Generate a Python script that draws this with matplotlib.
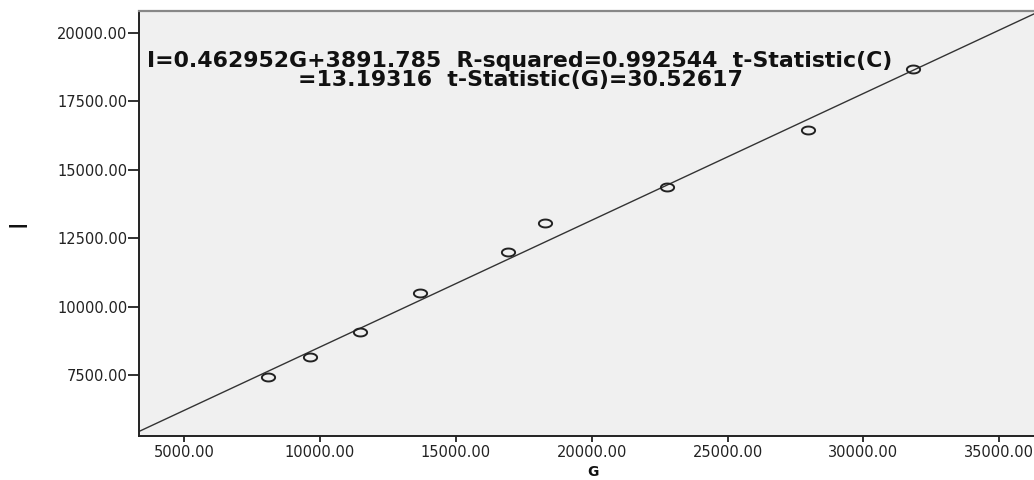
import numpy as np
import matplotlib
matplotlib.use("Agg")
import matplotlib.pyplot as plt
from matplotlib.path import Path

# ---- data ----
G_values = [8091, 9636, 11476, 13684, 16922, 18283, 22772, 27960, 31824]
I_values = [7427, 8157, 9070, 10493, 11990, 13048, 14362, 16443, 18669]
fit_slope = 0.462952
fit_intercept = 3891.785
x_ticks = [5000, 10000, 15000, 20000, 25000, 30000, 35000]
y_ticks = [7500, 10000, 12500, 15000, 17500, 20000]
x_label = "G"
y_label = "I"
annotation = ("I=0.462952G+3891.785  R-squared=0.992544  t-Statistic(C)\n"
              "=13.19316  t-Statistic(G)=30.52617")

W, H = 1034, 480
fig = plt.figure(figsize=(W / 100, H / 100), dpi=100)
fig.patch.set_facecolor("white")

# axes in pixel terms: left 139, right ~1042 (beyond figure), top 11, bottom 436
ax = fig.add_axes([139 / W, (H - 436) / H, (1042 - 139) / W, (436 - 11) / H])
ax.set_facecolor("#f0f0f0")
ax.set_xlim(3344, 36571)
ax.set_ylim(5274, 20792)

# fit line across the x range
xl = np.array(ax.get_xlim())
ax.plot(xl, fit_slope * xl + fit_intercept, color="#333333", lw=1.0, zorder=2)

# ellipse marker (horizontally stretched circle)
t = np.linspace(0, 2 * np.pi, 60)
ell = Path(np.column_stack([np.cos(t), 0.6 * np.sin(t)]), closed=True)
ax.plot(G_values, I_values, linestyle="none", marker=ell, markersize=9.5,
        markerfacecolor="none", markeredgecolor="#222222", markeredgewidth=1.4,
        zorder=3)

ax.set_xticks(x_ticks)
ax.set_yticks(y_ticks)
ax.set_xticklabels([f"{v:.2f}" for v in x_ticks])
ax.set_yticklabels([f"{v:.2f}" for v in y_ticks])
ax.tick_params(axis="x", direction="out", length=4.3, width=1.3, pad=2.5,
               labelsize=10.5, colors="#222222")
ax.tick_params(axis="y", direction="out", length=8, width=1.3, pad=0.5,
               labelsize=10.5, colors="#222222")

for s in ("left", "bottom"):
    ax.spines[s].set_color("#222222")
    ax.spines[s].set_linewidth(1.4)
ax.spines["top"].set_color("#888888")
ax.spines["top"].set_linewidth(1.6)
ax.spines["right"].set_visible(False)

fig.text(593 / W, 1 - 472 / H, x_label, ha="center", va="center",
         fontsize=10, fontweight="bold", color="#111111")
fig.text(18 / W, 1 - 223 / H, y_label, ha="center", va="center",
         rotation=90, fontsize=18, fontweight="normal", color="#111111")

txt = fig.text(520 / W, 1 - 70.5 / H, annotation, ha="center", va="center",
               fontsize=12, fontweight="bold", color="#111111",
               linespacing=0.98, multialignment="center",
               family="DejaVu Sans")
# fit annotation width to ~744 px
fig.canvas.draw()
r = fig.canvas.get_renderer()
w = txt.get_window_extent(r).width
txt.set_fontsize(12 * 744 / w)

fig.savefig("out.png", dpi=100, facecolor="white")
